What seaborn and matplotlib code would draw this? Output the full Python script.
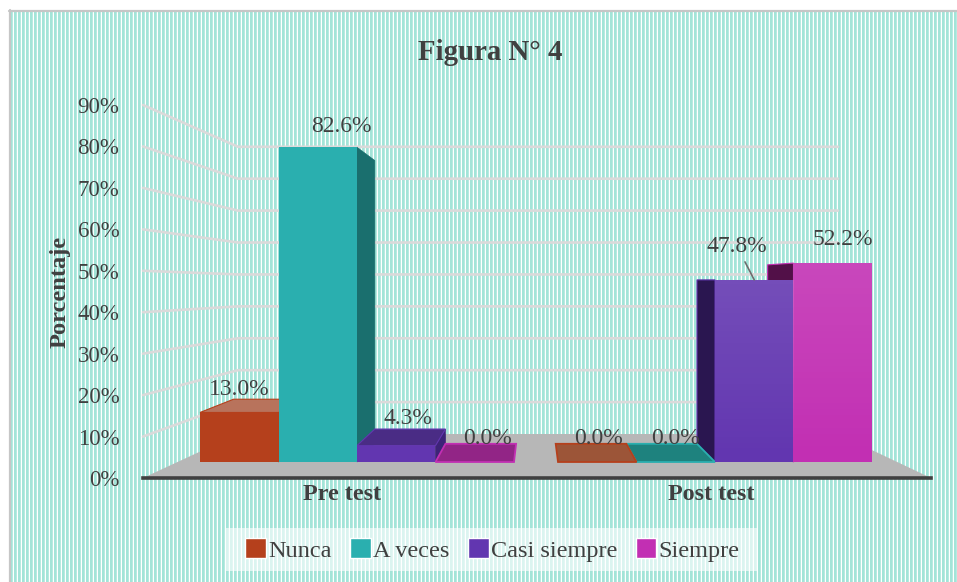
import numpy as np
import pandas as pd
import matplotlib
matplotlib.use('Agg')
import matplotlib.pyplot as plt
from matplotlib.colors import to_rgb
from matplotlib.patches import Polygon, Rectangle
from matplotlib.transforms import ScaledTranslation
import seaborn as sb

# datos de la figura
pruebas = ['Pre test', 'Post test']
respuestas = ['Nunca', 'A veces', 'Casi siempre', 'Siempre']
pre_test = [13.0, 82.6, 4.3, 0.0]
post_test = [0.0, 0.0, 47.8, 52.2]
ticks = [0, 10, 20, 30, 40, 50, 60, 70, 80, 90]

colores = ['#B5401C', '#2AAFAF', '#6236B0', '#C22FB3']
color_tapa = ['#B8735C', '#1E827E', '#4A2C85', '#922586']
color_der = ['#8A3015', '#1A6F6E', '#3D2378', '#521048']
color_izq = ['#8A3015', '#1A6F6E', '#2A1650', '#521048']
color_piso = ['#9C5538', '#1E827E', '#6236B0', '#922586']
# desplazamiento de cada etiqueta respecto del centro superior de su barra (px)
offsets = [(0, 23), (24, 21), (12, 27), (13, 24), (1, 24), (0, 24), (-17, 33), (10, 24)]
# correccion horizontal de las etiquetas del eje x (px)
corr_x = [-15, -4]

W, H = 957, 582
PF = (535, 280)   # punto de fuga
K = 0.1           # profundidad de las barras

sb.set_theme(style='white')
plt.rcParams['font.family'] = ['Liberation Serif', 'DejaVu Serif']
plt.rcParams['text.color'] = '#404040'

df = pd.DataFrame({
    'prueba': [p for p in pruebas for r in respuestas],
    'respuesta': respuestas * 2,
    'valor': pre_test + post_test,
})


def caja(x0, y0, x1, y1):
    # rectangulo en pixeles (origen arriba a la izquierda) a fraccion de figura
    return [x0 / W, 1 - y1 / H, (x1 - x0) / W, (y1 - y0) / H]


fig = plt.figure(figsize=(W / 100, H / 100), dpi=100, facecolor='white')

# fondo en pixeles: rayas, marco, piso y paredes
bg = fig.add_axes([0, 0, 1, 1], zorder=0)
patron = [to_rgb(c) for c in ['#B8EAE1', '#FFFFFF', '#A3E4D8', '#A3E4D8']]
rayas = np.array([[patron[x % 4] for x in range(W)]])
bg.imshow(rayas, extent=(0, W, H, 0), aspect='auto', interpolation='nearest', zorder=0)
bg.set_xlim(0, W)
bg.set_ylim(H, 0)
bg.axis('off')
bg.add_patch(Rectangle((0, 0), 9, H, color='white', lw=0, zorder=1))
bg.add_patch(Rectangle((0, 0), W, 10, color='white', lw=0, zorder=1))
bg.plot([10, 10], [10, H], color='#C6C6C6', lw=1.6, zorder=1)
bg.plot([9, W], [11, 11], color='#C6C6C6', lw=1.6, zorder=1)
bg.add_patch(Polygon([(143, 478), (238, 434), (838, 434), (931, 478)], color='#B7B7B7', lw=0, zorder=3))
bg.add_patch(Rectangle((225, 528), 532, 43, color='white', alpha=0.62, lw=0, zorder=1))

# eje de porcentajes
wall = fig.add_axes(caja(143, 105, 931, 478), zorder=1)
wall.patch.set_alpha(0)
wall.set_ylim(0, 90)
wall.set_xticks([])
wall.set_yticks(ticks)
wall.set_yticklabels([f'{t}%' for t in ticks], fontsize=16.5, color='#404040')
wall.tick_params(axis='y', length=0, pad=17)
wall.set_ylabel('Porcentaje', fontsize=17.6, fontweight='bold', color='#404040', labelpad=5)
sb.despine(ax=wall, left=True, bottom=True)

fig.canvas.draw()
for t in ticks[1:]:
    y = H - wall.transData.transform((0, t))[1]
    y_fondo = 434 + (y - 478) * 0.77
    bg.plot([143, 238, 838], [y, y_fondo, y_fondo], color='#DADADA', lw=1.9, zorder=2)

# barras: base en y=462 px, 3.81 px por cada 1%
ax = fig.add_axes(caja(143, 103, 931, 478), zorder=2)
ax.patch.set_alpha(0)
sb.barplot(data=df, x='prueba', y='valor', hue='respuesta', order=pruebas, hue_order=respuestas,
           palette=colores, width=0.877, gap=0, saturation=1, legend=True, ax=ax)
ax.set_xlim((143 - 357) / 358, (931 - 357) / 358)
ax.set_ylim(-16 / 3.81, 359 / 3.81)
ax.set_xlabel('')
ax.set_ylabel('')
ax.set_yticks([])
ax.tick_params(axis='x', length=0, pad=4)
for lab, dx in zip(ax.get_xticklabels(), corr_x):
    lab.set_fontsize(17.4)
    lab.set_fontweight('bold')
    lab.set_color('#404040')
    lab.set_transform(lab.get_transform() + ScaledTranslation(dx / 100, 0, fig.dpi_scale_trans))
sb.despine(ax=ax, left=True)
ax.spines['bottom'].set_color('#404040')
ax.spines['bottom'].set_linewidth(2.6)

fig.canvas.draw()


def a_pixel(x, y):
    px, py = ax.transData.transform((x, y))
    return px, H - py


def fondo(p):
    return (p[0] + K * (PF[0] - p[0]), p[1] + K * (PF[1] - p[1]))


# caras laterales y superiores, primero lo mas lejano al frente
barras = []
for i, cont in enumerate(ax.containers):
    for barra in cont:
        barras.append((i, barra))
barras.sort(key=lambda b: (b[1].get_x() > 0, b[1].get_x() * (1 if b[1].get_x() < 0 else -1)))

orden = 4
for i, barra in barras:
    barra.set_linewidth(0)
    x0, x1 = barra.get_x(), barra.get_x() + barra.get_width()
    alto = barra.get_height()
    a, b = a_pixel(x0, alto), a_pixel(x1, alto)
    c, d = a_pixel(x0, 0), a_pixel(x1, 0)
    orden += 0.01
    if alto == 0:
        bg.add_patch(Polygon([c, d, fondo(d), fondo(c)], fc=color_piso[i], ec=colores[i], lw=1.3, zorder=orden))
        continue
    if d[0] < PF[0]:
        bg.add_patch(Polygon([b, fondo(b), fondo(d), d], fc=color_der[i], ec=color_der[i], lw=0.5, zorder=orden))
    elif c[0] > PF[0]:
        bg.add_patch(Polygon([a, fondo(a), fondo(c), c], fc=color_izq[i], ec=colores[i], lw=0.8, zorder=orden))
    if a[1] > PF[1]:
        bg.add_patch(Polygon([a, b, fondo(b), fondo(a)], fc=color_tapa[i], ec=colores[i], lw=0.8, zorder=orden))

# brillo de las barras altas del post test
brillo = np.ones((64, 1, 4))
brillo[:, :, 3] = np.linspace(0.12, 0, 64)[:, None]
for i in (2, 3):
    barra = ax.containers[i][1]
    im = ax.imshow(brillo, extent=(barra.get_x(), barra.get_x() + barra.get_width(), 0, barra.get_height()),
                   aspect='auto', zorder=4)
    im.set_clip_path(barra)
ax.set_xlim((143 - 357) / 358, (931 - 357) / 358)
ax.set_ylim(-16 / 3.81, 359 / 3.81)

# etiquetas de datos
k = 0
for g in range(len(pruebas)):
    for i, cont in enumerate(ax.containers):
        barra = cont[g]
        x = barra.get_x() + barra.get_width() / 2
        y = barra.get_height()
        flecha = dict(arrowstyle='-', color='#6E6E6E', lw=1.2, shrinkA=1, shrinkB=0) if offsets[k][1] > 30 else None
        ax.annotate(f'{y:.1f}%', (x, y), xytext=offsets[k], textcoords='offset pixels', ha='center', va='center',
                    fontsize=17, color='#404040', arrowprops=flecha, zorder=6)
        k += 1

# titulo
fig.text(490 / W, 1 - 52 / H, 'Figura N° 4', ha='center', va='center', fontsize=20.8, fontweight='bold', color='#404040')

# leyenda
handles, labels = ax.get_legend_handles_labels()
ax.get_legend().remove()
leg = fig.legend(handles, labels, loc='center', bbox_to_anchor=(492.5 / W, 1 - 550 / H), ncol=4, fontsize=17.5,
                 frameon=False, handlelength=0.85, handleheight=0.85, handletextpad=0.1, columnspacing=0.75,
                 borderpad=0, labelcolor='#404040')
leg.set_zorder(5)

fig.savefig('out.png', dpi=100)
